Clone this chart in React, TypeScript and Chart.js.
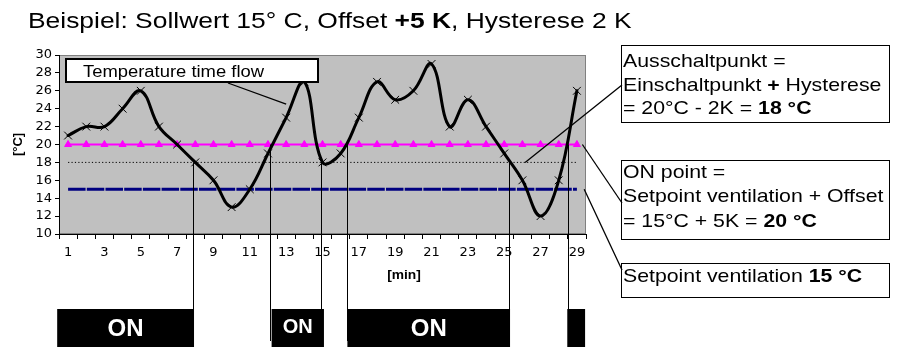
import React, { useEffect, useRef } from 'react';
import { Chart, registerables } from 'chart.js';

Chart.register(...registerables);

// ---- data ----
const minutes = ['1','2','3','4','5','6','7','8','9','10','11','12','13','14','15','16','17','18','19','20','21','22','23','24','25','26','27','28','29'];
const temperature = [21, 22, 22, 24, 26, 22, 20, 18, 16, 13, 15, 19, 23, 27, 18, 19, 23, 27, 25, 26, 29, 22, 25, 22, 19, 16, 12, 16, 26];
const onPointLine = [20, 20, 20, 20, 20, 20, 20, 20, 20, 20, 20, 20, 20, 20, 20, 20, 20, 20, 20, 20, 20, 20, 20, 20, 20, 20, 20, 20, 20];
const offPointLine = [18, 18, 18, 18, 18, 18, 18, 18, 18, 18, 18, 18, 18, 18, 18, 18, 18, 18, 18, 18, 18, 18, 18, 18, 18, 18, 18, 18, 18];
const setpointLine = [15, 15, 15, 15, 15, 15, 15, 15, 15, 15, 15, 15, 15, 15, 15, 15, 15, 15, 15, 15, 15, 15, 15, 15, 15, 15, 15, 15, 15];
const yMin = 10;
const yMax = 30;
const yStep = 2;

// switching moments (minute, temperature at switch)
const switchMinutes = [7.9, 12.1, 14.9, 16.35, 25.25, 28.5];
const switchTemps = [18, 20, 18, 20, 18, 20];
// ON periods
const onStart = [0.4, 12.2, 16.37, 28.47];
const onEnd = [7.93, 15.08, 25.32, 29.45];
const onLabel = 'ON';

// callout anchors (minute, temperature)
const calloutMinutes = [13, 26.15, 29.3, 29.4];
const calloutTemps = [24.5, 18, 20, 15];

// texts
const titleRuns: [string, boolean][] = [['Beispiel: Sollwert 15° C, Offset ', false], ['+5 K', true], [', Hysterese 2 K', false]];
const flowLabel = 'Temperature time flow';
const box1Lines: [string, boolean][][] = [
  [['Ausschaltpunkt =', false]],
  [['Einschaltpunkt ', false], ['+', true], [' Hysterese', false]],
  [['= 20°C - 2K = ', false], ['18 °C', true]],
];
const box2Lines: [string, boolean][][] = [
  [['ON point =', false]],
  [['Setpoint ventilation + Offset', false]],
  [['= 15°C + 5K = ', false], ['20 °C', true]],
];
const box3Lines: [string, boolean][][] = [
  [['Setpoint ventilation ', false], ['15 °C', true]],
];
const xTitle = '[min]';
const yTitle = '[°C]';

const FONT = '"Liberation Sans", Arial, sans-serif';

function drawRuns(ctx: CanvasRenderingContext2D, x: number, y: number, runs: [string, boolean][], size: number, sx: number, color = '#000', align: 'left' | 'center' = 'left') {
  ctx.save();
  ctx.textBaseline = 'alphabetic';
  ctx.textAlign = 'left';
  let total = 0;
  for (const [t, b] of runs) {
    ctx.font = `${b ? 'bold ' : ''}${size}px ${FONT}`;
    total += ctx.measureText(t).width;
  }
  ctx.translate(x, y);
  ctx.scale(sx, 1);
  let cx = align === 'center' ? -total / 2 : 0;
  ctx.fillStyle = color;
  for (const [t, b] of runs) {
    ctx.font = `${b ? 'bold ' : ''}${size}px ${FONT}`;
    ctx.fillText(t, cx, 0);
    cx += ctx.measureText(t).width;
  }
  ctx.restore();
}

function line(ctx: CanvasRenderingContext2D, x1: number, y1: number, x2: number, y2: number) {
  ctx.beginPath();
  ctx.moveTo(x1, y1);
  ctx.lineTo(x2, y2);
  ctx.stroke();
}

const annotPlugin = {
  id: 'annot',
  beforeDraw(chart: any) {
    const { ctx, chartArea: a } = chart;
    ctx.save();
    ctx.fillStyle = '#fff';
    ctx.fillRect(0, 0, chart.width, chart.height);
    ctx.fillStyle = '#C0C0C0';
    ctx.fillRect(a.left, a.top, a.right - a.left, a.bottom - a.top);
    ctx.strokeStyle = '#808080';
    ctx.lineWidth = 1;
    ctx.strokeRect(a.left + 0.5, a.top + 0.5, a.right - a.left - 1, a.bottom - a.top - 1);
    ctx.restore();
  },
  afterDraw(chart: any) {
    const { ctx } = chart;
    const xs = chart.scales.x;
    const ys = chart.scales.y;
    const px = (m: number) => xs.getPixelForValue(m - 1);
    ctx.save();

    // switching lines
    ctx.strokeStyle = '#000';
    ctx.lineWidth = 1;
    switchMinutes.forEach((m, i) => {
      const x = Math.round(px(m)) + 0.5;
      line(ctx, x, ys.getPixelForValue(switchTemps[i]), x, 341);
    });

    // ON bars
    onStart.forEach((s, i) => {
      const x0 = px(s);
      const x1 = px(onEnd[i]);
      const w = x1 - x0;
      ctx.fillStyle = '#000';
      ctx.fillRect(x0, 309, w, 38);
      if (w > 40) {
        const big = w > 100;
        drawRuns(ctx, (x0 + x1) / 2, big ? 335.5 : 332.5, [[onLabel, true]], big ? 24 : 20, 1, '#fff', 'center');
      }
    });

    // x axis title
    drawRuns(ctx, 404, 279, [[xTitle, true]], 12, 1.15, '#000', 'center');

    // title
    drawRuns(ctx, 28, 28, titleRuns, 22, 1.2);

    // temperature flow callout
    ctx.fillStyle = '#fff';
    ctx.fillRect(66, 59, 252, 23);
    ctx.strokeStyle = '#000';
    ctx.lineWidth = 2;
    ctx.strokeRect(66, 59, 252, 23);
    drawRuns(ctx, 83, 77, [[flowLabel, false]], 16, 1.15);
    ctx.lineWidth = 1.3;
    line(ctx, 228, 83, px(calloutMinutes[0]), ys.getPixelForValue(calloutTemps[0]));

    // right boxes
    ctx.lineWidth = 1;
    ctx.strokeStyle = '#000';
    ctx.strokeRect(621.5, 45.5, 268, 77);
    ctx.strokeRect(621.5, 160.5, 268, 79);
    ctx.strokeRect(621.5, 263.5, 268, 34);
    box1Lines.forEach((r, i) => drawRuns(ctx, 623, 67 + i * 23.5, r, 18.5, 1.15));
    box2Lines.forEach((r, i) => drawRuns(ctx, 623, 177.5 + i * 24.5, r, 18.5, 1.15));
    box3Lines.forEach((r, i) => drawRuns(ctx, 623, 282 + i * 24, r, 18.5, 1.15));

    ctx.lineWidth = 1.3;
    line(ctx, px(calloutMinutes[1]), ys.getPixelForValue(calloutTemps[1]), 622, 85);
    line(ctx, px(calloutMinutes[2]), ys.getPixelForValue(calloutTemps[2]), 622, 203);
    line(ctx, px(calloutMinutes[3]), ys.getPixelForValue(calloutTemps[3]), 622, 270);

    ctx.restore();
  },
};

export default function App() {
  const ref = useRef<HTMLCanvasElement | null>(null);
  useEffect(() => {
    if (!ref.current) return;
    const chart = new Chart(ref.current, {
      type: 'line',
      data: {
        labels: minutes,
        datasets: [
          {
            label: 'Temperature',
            data: temperature,
            borderColor: '#000',
            borderWidth: 3,
            tension: 0.4,
            borderCapStyle: 'round',
            borderJoinStyle: 'round',
            pointStyle: 'crossRot',
            pointRadius: 5.5,
            pointBorderWidth: 1,
            pointBorderColor: '#000',
            pointBackgroundColor: '#000',
          },
          {
            label: 'ON point',
            data: onPointLine,
            borderColor: '#FF00FF',
            backgroundColor: '#FF00FF',
            borderWidth: 2,
            pointStyle: 'triangle',
            pointRadius: 4,
            pointBorderWidth: 1,
            tension: 0,
          },
          {
            label: 'OFF point',
            data: offPointLine,
            borderColor: '#000',
            borderWidth: 1,
            borderDash: [1.2, 2.2],
            pointRadius: 0,
            tension: 0,
          },
          {
            label: 'Setpoint',
            data: setpointLine,
            borderColor: '#000080',
            borderWidth: 3,
            borderDash: [17.5, 1.2],
            pointRadius: 0,
            tension: 0,
          },
        ],
      },
      options: {
        responsive: false,
        animation: false,
        devicePixelRatio: 1,
        layout: { padding: { top: 55, right: 313, left: 0, bottom: 0 } },
        plugins: { legend: { display: false }, tooltip: { enabled: false }, title: { display: false } },
        scales: {
          x: {
            type: 'category',
            offset: true,
            grid: { offset: true, drawOnChartArea: false, drawTicks: true, tickLength: 5, color: '#000', lineWidth: 1 },
            border: { color: '#000', width: 1 },
            ticks: {
              autoSkip: false,
              maxRotation: 0,
              minRotation: 0,
              padding: 6,
              color: '#000',
              font: { family: '"DejaVu Sans"', size: 13 },
              callback: (_v: any, i: number) => (i % 2 === 0 ? minutes[i] : ''),
            },
            afterFit: (s: any) => { s.height = 113; },
          },
          y: {
            min: yMin,
            max: yMax,
            ticks: { stepSize: yStep, autoSkip: false, padding: 3, color: '#000', font: { family: '"DejaVu Sans"', size: 13 } },
            grid: { drawOnChartArea: false, drawTicks: true, tickLength: 4, color: '#000' },
            border: { color: '#000', width: 1 },
            title: { display: true, text: yTitle, color: '#000', font: { family: '"Liberation Sans"', size: 13, weight: 'bold' }, padding: { top: 11, bottom: 0 } },
            afterFit: (s: any) => { s.width = 59; },
          },
        },
      },
      plugins: [annotPlugin],
    } as any);
    return () => chart.destroy();
  }, []);
  return (
    <div style={{ position: 'absolute', left: 0, top: 0, width: 899, height: 347 }}>
      <canvas ref={ref} width={899} height={347} style={{ display: 'block' }} />
    </div>
  );
}
